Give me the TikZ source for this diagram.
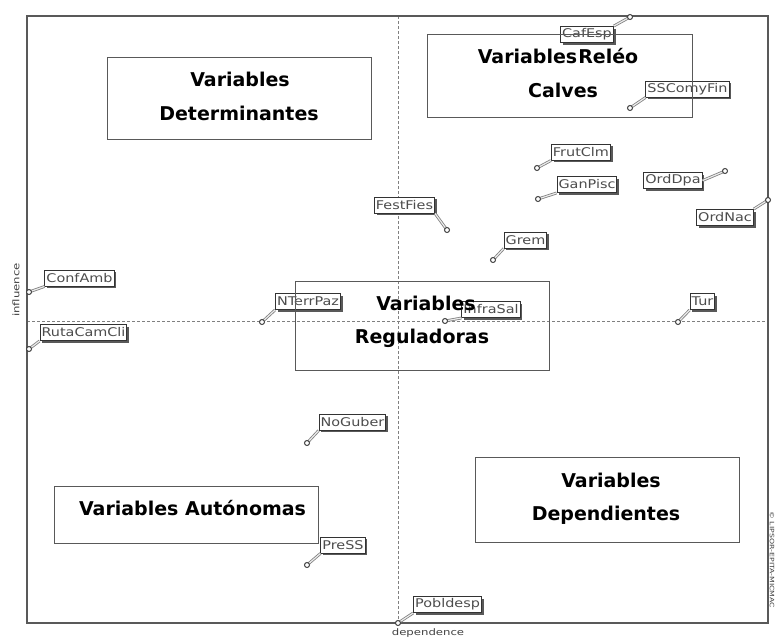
\documentclass[tikz,border=0pt]{standalone}
\usepackage{fontspec}
\setmainfont{DejaVu Sans}
\newfontfamily\lblfont[FakeStretch=1.2]{DejaVu Sans}
\newfontfamily\axfont[FakeStretch=1.3]{DejaVu Sans}
\usetikzlibrary{shadows}
\begin{document}
\begin{tikzpicture}[x=1pt,y=-1pt,
  lbl/.style={draw=black!80, line width=1pt, fill=white,
    font=\lblfont\fontsize{12}{12}\selectfont, text=black!70,
    inner xsep=1.5pt, inner ysep=1pt, minimum height=16pt,
    drop shadow={shadow xshift=2.2pt, shadow yshift=-2.2pt, fill=black!65, opacity=1}},
  conn/.style={draw=black!50, line width=0.8pt, double=black!8, double distance=1.2pt},
  pmarker/.style={circle, draw=black!75, line width=1pt, fill=white, inner sep=0pt, minimum size=5pt},
  zone/.style={draw=black!65, line width=0.9pt, inner sep=0pt},
  ztext/.style={font=\bfseries\fontsize{19}{19}\selectfont, anchor=base, inner sep=0pt},
  frame/.style={draw=black!65, line width=1.6pt},
  grid/.style={draw=black!50, line width=0.7pt, dash pattern=on 3pt off 2pt},
  ax/.style={font=\axfont\fontsize{9}{9}\selectfont, text=black!75, inner sep=0pt}
]
\useasboundingbox (0,0) rectangle (777,640);
\fill[white] (0,0) rectangle (777,640);

% dashed axes
\coordinate (vtop) at (398,16);
\coordinate (vbot) at (398,623);
\coordinate (hleft) at (27,321);
\coordinate (hright) at (768,321);
\draw[grid] (vtop) -- (vbot);
\draw[grid] (hleft) -- (hright);

% frame
\draw[frame] (27,16) rectangle (768,623);

% axis labels
\node[ax, rotate=90] (infl) at (16,290) {influence};
\node[ax] (dep) at (428,633) {dependence};
\node[ax, rotate=-90, font=\axfont\fontsize{6}{6}\selectfont] (wm) at (772,560) {© LIPSOR-EPITA-MICMAC};

% points
\coordinate (pCafEsp) at (630,17);
\coordinate (pSSComyFin) at (630,108);
\coordinate (pFrutClm) at (537,168);
\coordinate (pGanPisc) at (538,199);
\coordinate (pOrdDpa) at (725,171);
\coordinate (pOrdNac) at (768,200);
\coordinate (pFestFies) at (447,230);
\coordinate (pGrem) at (493,260);
\coordinate (pInfraSal) at (445,321);
\coordinate (pTur) at (678,322);
\coordinate (pConfAmb) at (29,292);
\coordinate (pRutaCamCli) at (29,349);
\coordinate (pNTerrPaz) at (262,322);
\coordinate (pNoGuber) at (307,443);
\coordinate (pPreSS) at (307,565);
\coordinate (pPobldesp) at (398,623);

% labels
\node[lbl] (lCafEsp) at (587,34.5) {CafEsp};
\node[lbl] (lSSComyFin) at (687.5,89) {SSComyFin};
\node[lbl] (lFrutClm) at (581,152) {FrutClm};
\node[lbl] (lGanPisc) at (587,184.5) {GanPisc};
\node[lbl] (lOrdDpa) at (673,180.5) {OrdDpa};
\node[lbl] (lOrdNac) at (725,217.5) {OrdNac};
\node[lbl] (lFestFies) at (404.5,205) {FestFies};
\node[lbl] (lGrem) at (525.5,240) {Grem};
\node[lbl] (lInfraSal) at (491,309.5) {InfraSal};
\node[lbl] (lTur) at (702.5,301.5) {Tur};
\node[lbl] (lConfAmb) at (79.5,278) {ConfAmb};
\node[lbl] (lRutaCamCli) at (83.5,332.5) {RutaCamCli};
\node[lbl] (lNTerrPaz) at (308,301.5) {NTerrPaz};
\node[lbl] (lNoGuber) at (352.5,422) {NoGuber};
\node[lbl] (lPreSS) at (343,545) {PreSS};
\node[lbl] (lPobldesp) at (447.5,604.5) {Pobldesp};

% connectors
\draw[conn] (pCafEsp) -- (lCafEsp.north east);
\draw[conn] (pSSComyFin) -- (lSSComyFin.south west);
\draw[conn] (pFrutClm) -- (lFrutClm.south west);
\draw[conn] (pGanPisc) -- (lGanPisc.south west);
\draw[conn] (pOrdDpa) -- (lOrdDpa.east);
\draw[conn] (pOrdNac) -- (lOrdNac.north east);
\draw[conn] (pFestFies) -- (lFestFies.south east);
\draw[conn] (pGrem) -- (lGrem.south west);
\draw[conn] (pInfraSal) -- (lInfraSal.south west);
\draw[conn] (pTur) -- (lTur.south west);
\draw[conn] (pConfAmb) -- (lConfAmb.south west);
\draw[conn] (pRutaCamCli) -- (lRutaCamCli.south west);
\draw[conn] (pNTerrPaz) -- (lNTerrPaz.south west);
\draw[conn] (pNoGuber) -- (lNoGuber.south west);
\draw[conn] (pPreSS) -- (lPreSS.south west);
\draw[conn] (pPobldesp) -- (lPobldesp.south west);

% markers
\foreach \p in {CafEsp,SSComyFin,FrutClm,GanPisc,OrdDpa,OrdNac,FestFies,Grem,InfraSal,Tur,ConfAmb,RutaCamCli,NTerrPaz,NoGuber,PreSS,Pobldesp}
  \node[pmarker] (m\p) at (p\p) {};

% zone boxes
\node[zone, minimum width=264pt, minimum height=82pt] (zDet) at (239,98) {};
\node[zone, minimum width=265pt, minimum height=83pt] (zRel) at (559.5,75.5) {};
\node[zone, minimum width=254pt, minimum height=89pt] (zReg) at (422,325.5) {};
\node[zone, minimum width=264pt, minimum height=57pt] (zAut) at (186,514.5) {};
\node[zone, minimum width=264pt, minimum height=85pt] (zDep) at (607,499.5) {};

% zone texts
\node[ztext] (tDet1) at (240,86) {Variables};
\node[ztext] (tDet2) at (239,120) {Determinantes};
\node[ztext] (tRel1) at (558,63) {Variables\hspace{1pt}Reléo};
\node[ztext] (tRel2) at (563,97) {Calves};
\node[ztext] (tReg1) at (426,310) {Variables};
\node[ztext] (tReg2) at (422,343) {Reguladoras};
\node[ztext] (tAut) at (192.5,515) {Variables Autónomas};
\node[ztext] (tDep1) at (611,487) {Variables};
\node[ztext] (tDep2) at (606,520) {Dependientes};
\end{tikzpicture}
\end{document}
